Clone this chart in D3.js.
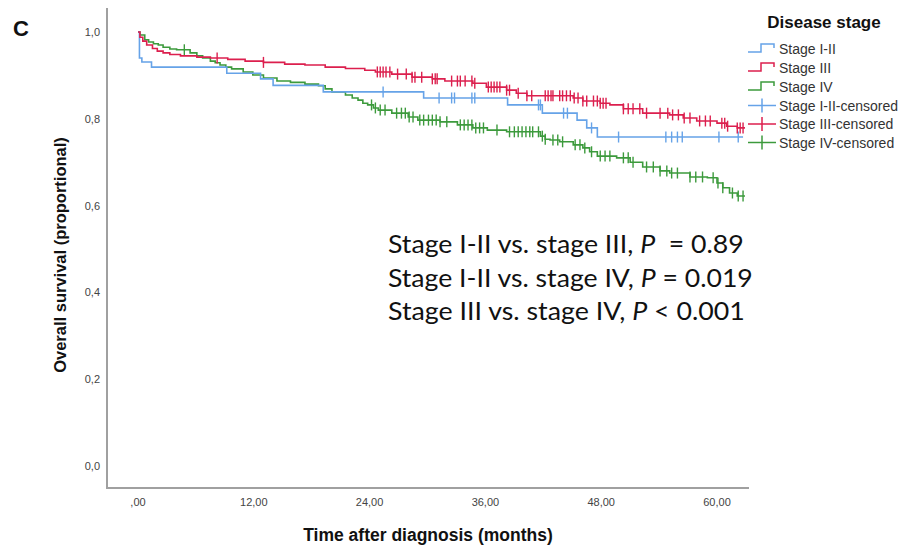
<!DOCTYPE html>
<html>
<head>
<meta charset="utf-8">
<script src="https://cdn.jsdelivr.net/npm/d3@7"></script>
<style>
  body { margin: 0; background: #fff; }
  svg { display: block; font-family: "Liberation Sans", Arial, sans-serif; }
</style>
</head>
<body>
<svg id="chart" width="911" height="548"></svg>
<script>
// ---------------- DATA ----------------
const xTicks = [0, 12, 24, 36, 48, 60];
const xTickLabels = [",00", "12,00", "24,00", "36,00", "48,00", "60,00"];
const yTicks = [0, 0.2, 0.4, 0.6, 0.8, 1.0];
const yTickLabels = ["0,0", "0,2", "0,4", "0,6", "0,8", "1,0"];

const seriesNames = ["Stage I-II", "Stage III", "Stage IV"];
const censorNames = ["Stage I-II-censored", "Stage III-censored", "Stage IV-censored"];

// Stage I-II: event times (months) and survival after each event
const stage12Times = [0.15, 0.4, 1.4, 9.2, 12.7, 14.0, 19.2, 29.6, 38.3, 41.9, 45.5, 46.5, 47.6];
const stage12Surv  = [0.940, 0.931, 0.919, 0.905, 0.892, 0.877, 0.862, 0.848, 0.832, 0.813, 0.797, 0.779, 0.758];
const stage12End = 62.7;
const stage12Censor = [25.4, 31.2, 32.5, 32.8, 34.6, 34.9, 41.5, 41.7, 44.1, 44.5, 47.0, 49.8, 54.7, 55.3, 55.9, 56.4, 60.2, 62.2];

// Stage III
const stage3Times = [0.2, 0.5, 0.9, 1.5, 2.0, 2.6, 3.3, 4.4, 6.1, 7.5, 9.3, 11.1, 13.0, 15.2, 17.3, 19.4, 21.5, 23.5, 24.6, 26.3, 28.4, 30.5, 31.8, 34.7, 36.1, 38.2, 39.2, 40.3, 45.1, 46.1, 47.9, 48.9, 50.3, 52.3, 55.1, 56.5, 57.9, 60.0, 61.0, 62.1];
const stage3Surv  = [0.988, 0.979, 0.970, 0.962, 0.956, 0.952, 0.948, 0.945, 0.942, 0.940, 0.937, 0.933, 0.930, 0.926, 0.924, 0.919, 0.916, 0.912, 0.908, 0.903, 0.896, 0.892, 0.887, 0.882, 0.873, 0.866, 0.859, 0.853, 0.848, 0.841, 0.836, 0.832, 0.823, 0.813, 0.809, 0.802, 0.795, 0.790, 0.783, 0.779];
const stage3End = 62.9;
const stage3Censor = [8.2, 13.0, 24.8, 25.1, 25.4, 25.7, 26.1, 26.9, 27.8, 28.4, 28.7, 29.4, 30.5, 30.8, 31.0, 32.5, 33.1, 33.4, 33.9, 34.6, 34.9, 36.3, 36.6, 36.9, 37.2, 37.5, 38.2, 38.5, 39.4, 40.3, 40.8, 42.2, 42.5, 42.8, 43.0, 43.7, 44.0, 44.4, 44.8, 45.2, 45.6, 46.1, 46.5, 47.2, 47.6, 47.9, 48.2, 48.5, 50.3, 50.8, 51.3, 52.0, 52.7, 54.1, 54.9, 55.4, 56.0, 56.6, 57.2, 58.2, 58.8, 59.3, 60.5, 60.8, 61.1, 62.1, 62.4, 62.7];

// Stage IV
const stage4Times = [0.2, 0.7, 1.1, 1.6, 2.1, 2.6, 3.3, 4.0, 5.4, 6.1, 6.7, 7.5, 8.0, 8.5, 9.1, 9.7, 10.9, 11.9, 13.0, 14.4, 15.8, 17.3, 18.7, 19.4, 20.1, 21.5, 22.2, 22.8, 23.3, 23.8, 24.4, 24.9, 26.3, 28.0, 29.0, 31.3, 33.1, 34.7, 36.2, 38.2, 41.7, 42.2, 42.7, 43.7, 45.1, 46.1, 46.8, 47.6, 49.6, 51.0, 52.3, 54.1, 55.1, 57.2, 59.0, 60.0, 60.6, 61.3, 62.1];
const stage4Surv  = [0.993, 0.982, 0.977, 0.973, 0.970, 0.965, 0.961, 0.959, 0.952, 0.945, 0.940, 0.933, 0.929, 0.924, 0.919, 0.915, 0.908, 0.901, 0.894, 0.887, 0.884, 0.880, 0.876, 0.869, 0.862, 0.855, 0.848, 0.843, 0.836, 0.832, 0.825, 0.820, 0.813, 0.804, 0.797, 0.793, 0.786, 0.779, 0.774, 0.770, 0.760, 0.753, 0.751, 0.747, 0.740, 0.733, 0.724, 0.714, 0.710, 0.700, 0.689, 0.680, 0.675, 0.666, 0.664, 0.652, 0.641, 0.629, 0.622];
const stage4End = 62.9;
const stage4Censor = [4.8, 24.2, 24.6, 25.1, 25.6, 26.8, 27.3, 27.7, 28.1, 28.5, 29.2, 29.6, 30.1, 30.5, 30.9, 31.3, 32.0, 33.4, 33.8, 34.2, 34.6, 35.0, 35.4, 35.8, 37.2, 38.5, 39.0, 39.4, 39.8, 40.2, 40.6, 40.9, 41.5, 41.9, 42.2, 43.0, 43.5, 44.0, 45.3, 45.8, 46.3, 47.0, 47.9, 48.4, 48.9, 50.3, 50.8, 51.3, 52.7, 53.4, 54.1, 54.8, 55.3, 55.9, 57.2, 57.8, 58.5, 59.6, 60.1, 60.6, 61.6, 62.2, 62.7];

const seriesColors = ["#66a3e8", "#dc1f4e", "#3c9a3c"];

const annotations = [
  {pre: "Stage I-II vs. stage III, ", p: "P", post: "\u00a0 = 0.89"},
  {pre: "Stage I-II vs. stage IV, ", p: "P", post: " = 0.019"},
  {pre: "Stage III vs. stage IV, ", p: "P", post: " < 0.001"}
];
const annotationWidths = [356, 365, 357];

// ---------------- LAYOUT ----------------
const svg = d3.select("#chart");
const x = d3.scaleLinear().domain([0, 60]).range([138, 717]);
const y = d3.scaleLinear().domain([0, 1]).range([466, 32]);
const axisColor = "#a0a0a0";

// Panel letter
svg.append("text").attr("x", 13).attr("y", 36)
  .attr("font-size", 22).attr("font-weight", "bold").attr("fill", "#111").text("C");

// Axes lines (no ticks)
svg.append("line").attr("x1", 107).attr("x2", 107).attr("y1", 8).attr("y2", 489)
  .attr("stroke", axisColor).attr("stroke-width", 2);
svg.append("line").attr("x1", 106).attr("x2", 749).attr("y1", 488).attr("y2", 488)
  .attr("stroke", axisColor).attr("stroke-width", 2);

// Y tick labels
svg.append("g").selectAll("text").data(yTicks).join("text")
  .attr("x", 100).attr("y", d => y(d) + 4)
  .attr("text-anchor", "end").attr("font-size", 11).attr("fill", "#444")
  .text((d, i) => yTickLabels[i]);

// X tick labels
svg.append("g").selectAll("text").data(xTicks).join("text")
  .attr("x", d => x(d)).attr("y", 506)
  .attr("text-anchor", "middle").attr("font-size", 11).attr("fill", "#444")
  .text((d, i) => xTickLabels[i]);

// Axis titles
svg.append("text").attr("x", 428).attr("y", 541).attr("text-anchor", "middle")
  .attr("font-size", 17.5).attr("font-weight", "bold").attr("fill", "#111")
  .text("Time after diagnosis (months)");
svg.append("text").attr("transform", "translate(66,255) rotate(-90)").attr("text-anchor", "middle")
  .attr("font-size", 16.5).attr("font-weight", "bold").attr("fill", "#111")
  .text("Overall survival (proportional)");

// ---------------- CURVES ----------------
const series = [
  {times: stage12Times, surv: stage12Surv, end: stage12End, censor: stage12Censor},
  {times: stage3Times, surv: stage3Surv, end: stage3End, censor: stage3Censor},
  {times: stage4Times, surv: stage4Surv, end: stage4End, censor: stage4Censor}
];

const line = d3.line().x(d => x(d[0])).y(d => y(d[1])).curve(d3.curveStepAfter);

function survAt(s, t) {
  const i = d3.bisectRight(s.times, t);
  return i === 0 ? 1 : s.surv[i - 1];
}

const order = [2, 0, 1];
order.forEach(k => {
  const s = series[k];
  const pts = [[0, 1]];
  s.times.forEach((t, i) => pts.push([t, s.surv[i]]));
  pts.push([s.end, s.surv[s.surv.length - 1]]);
  svg.append("path").attr("d", line(pts)).attr("fill", "none")
    .attr("stroke", seriesColors[k]).attr("stroke-width", 1.6);
  svg.append("g").selectAll("line").data(s.censor).join("line")
    .attr("x1", d => x(d)).attr("x2", d => x(d))
    .attr("y1", d => y(survAt(s, d)) - 5.5).attr("y2", d => y(survAt(s, d)) + 5.5)
    .attr("stroke", seriesColors[k]).attr("stroke-width", 1.4);
});

// ---------------- LEGEND ----------------
svg.append("text").attr("x", 824).attr("y", 28).attr("text-anchor", "middle")
  .attr("font-size", 17).attr("font-weight", "bold").attr("fill", "#111")
  .text("Disease stage");
const rowY = [49, 68, 87, 105.5, 124, 142.5];
const lg = svg.append("g");
seriesNames.forEach((n, i) => {
  const ry = rowY[i];
  lg.append("path")
    .attr("d", `M748,${ry + 3}H761V${ry - 5}H774V${ry - 1}`)
    .attr("fill", "none").attr("stroke", seriesColors[i]).attr("stroke-width", 1.5);
  lg.append("text").attr("x", 779).attr("y", ry + 5).attr("font-size", 14).attr("fill", "#333").text(n);
});
censorNames.forEach((n, i) => {
  const ry = rowY[i + 3];
  lg.append("line").attr("x1", 748).attr("x2", 776).attr("y1", ry).attr("y2", ry)
    .attr("stroke", seriesColors[i]).attr("stroke-width", 1.5);
  lg.append("line").attr("x1", 762).attr("x2", 762).attr("y1", ry - 7).attr("y2", ry + 7)
    .attr("stroke", seriesColors[i]).attr("stroke-width", 1.5);
  lg.append("text").attr("x", 779).attr("y", ry + 5).attr("font-size", 14).attr("fill", "#333").text(n);
});

// ---------------- ANNOTATIONS ----------------
const annY = [253, 287, 320];
annotations.forEach((a, i) => {
  const t = svg.append("text").attr("x", 388).attr("y", annY[i])
    .attr("font-family", "Lato, 'Open Sans', sans-serif").attr("font-size", 25).attr("fill", "#111");
  t.append("tspan").text(a.pre);
  t.append("tspan").attr("font-style", "italic").text(a.p);
  t.append("tspan").text(a.post);
  const w = t.node().getComputedTextLength();
  const sx = annotationWidths[i] / w;
  t.attr("transform", `translate(388,0) scale(${sx},1) translate(-388,0)`);
});
</script>
</body>
</html>
